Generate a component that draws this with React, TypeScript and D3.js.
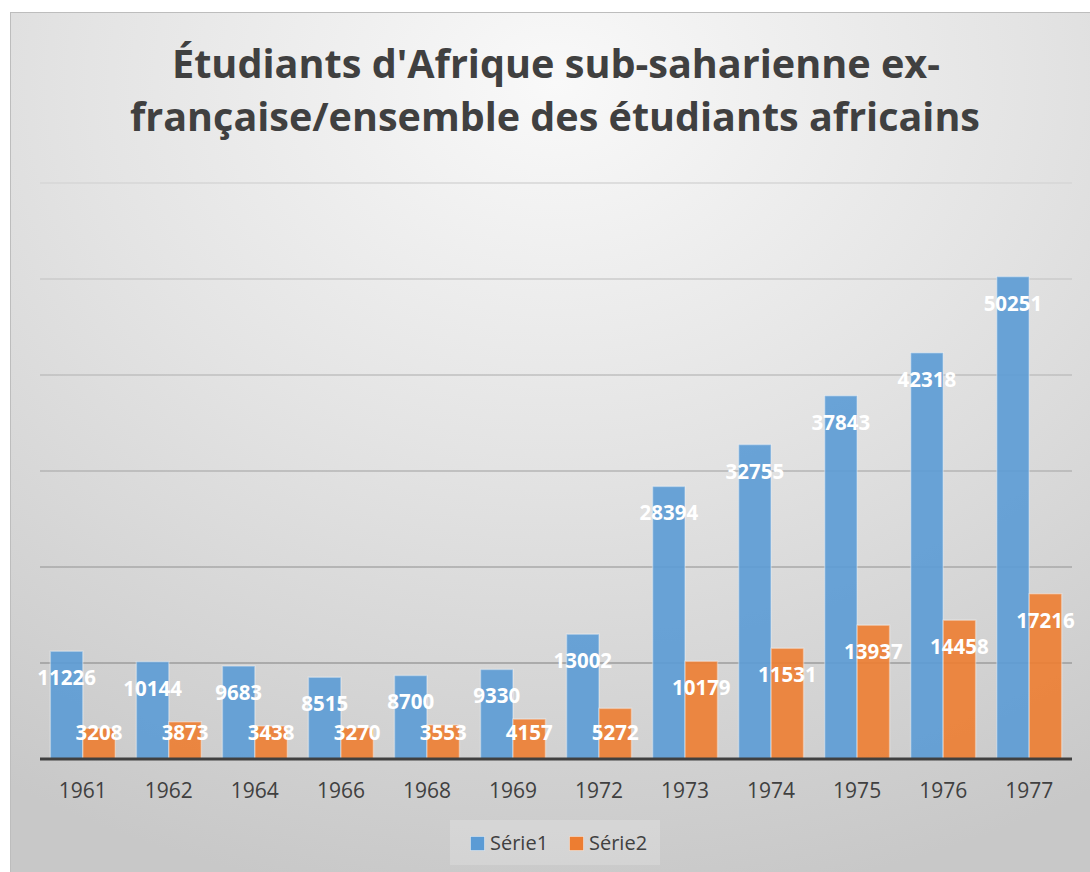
import React from 'react';
import * as d3 from 'd3';

const years = ['1961', '1962', '1964', '1966', '1968', '1969', '1972', '1973', '1974', '1975', '1976', '1977'];
const serie1 = [11226, 10144, 9683, 8515, 8700, 9330, 13002, 28394, 32755, 37843, 42318, 50251];
const serie2 = [3208, 3873, 3438, 3270, 3553, 4157, 5272, 10179, 11531, 13937, 14458, 17216];
const yTicks = [0, 10000, 20000, 30000, 40000, 50000, 60000];
const seriesNames = ['Série1', 'Série2'];
const colors = ['#5b9bd5', '#ed7d31'];

const W = 1090;
const H = 872;
const font = '"Open Sans", "Noto Sans", sans-serif';

export default function App() {
  const x = d3.scaleBand().domain(years).range([40, 1072]).paddingInner(0.245).paddingOuter(0.12);
  const y = d3.scaleLinear().domain([0, 60000]).range([759, 183]);
  const sub = d3.scaleBand().domain(seriesNames).range([0, x.bandwidth()]);
  // gridlines get darker towards the bottom
  const gridColor = d3.scaleLinear<string>().domain([60000, 0]).range(['#d6d6d6', '#929292']);
  const labelY = (v: number) => Math.min(y(v) + 27, 733) + 7;

  const series = [serie1, serie2];

  return (
    <svg width={W} height={H} style={{ position: 'absolute', left: 0, top: 0 }}>
      <defs>
        <radialGradient id="bg" cx="0.5" cy="0.08" r="0.95" gradientUnits="objectBoundingBox">
          <stop offset="0" stopColor="#f9f9f9" />
          <stop offset="0.45" stopColor="#e4e4e4" />
          <stop offset="1" stopColor="#c8c8c8" />
        </radialGradient>
      </defs>
      <rect x={10.5} y={12.5} width={W} height={H} fill="url(#bg)" stroke="#bdbdbd" />

      <text x={556} y={78} textAnchor="middle" fontFamily={font} fontWeight="bold" fontSize={40}
        fill="#404040" textLength={768} lengthAdjust="spacingAndGlyphs">
        Étudiants d'Afrique sub-saharienne ex-
      </text>
      <text x={555} y={131} textAnchor="middle" fontFamily={font} fontWeight="bold" fontSize={40}
        fill="#404040" textLength={850} lengthAdjust="spacingAndGlyphs">
        française/ensemble des étudiants africains
      </text>

      {yTicks.filter(t => t > 0).map(t => (
        <line key={t} x1={40} x2={1072} y1={y(t)} y2={y(t)} stroke={gridColor(t)} strokeWidth={1.5} />
      ))}

      {series.map((vals, si) => (
        <g key={si}>
          {vals.map((v, i) => (
            <rect key={i} x={(x(years[i]) ?? 0) + (sub(seriesNames[si]) ?? 0)} y={y(v)}
              width={sub.bandwidth()} height={y(0) - y(v)}
              fill={colors[si]} fillOpacity={0.9} stroke="#ffffff" strokeOpacity={0.35} strokeWidth={1.5} />
          ))}
        </g>
      ))}

      <line x1={40} x2={1072} y1={y(0)} y2={y(0)} stroke="#404040" strokeWidth={3} />

      {series.map((vals, si) => (
        <g key={'l' + si}>
          {vals.map((v, i) => (
            <text key={i} x={(x(years[i]) ?? 0) + (sub(seriesNames[si]) ?? 0) + sub.bandwidth() / 2}
              y={labelY(v)} textAnchor="middle" fontFamily={font} fontWeight="bold" fontSize={20.5} fill="#ffffff">
              {v}
            </text>
          ))}
        </g>
      ))}

      {years.map(yr => (
        <text key={yr} x={(x(yr) ?? 0) + x.bandwidth() / 2} y={798} textAnchor="middle"
          fontFamily={font} fontSize={21} fill="#404040">
          {yr}
        </text>
      ))}

      <rect x={450} y={820} width={210} height={45} fill="#ffffff" fillOpacity={0.18} />
      {seriesNames.map((s, i) => (
        <g key={s} transform={`translate(${470 + i * 99},0)`}>
          <rect x={0.5} y={836.5} width={14} height={14} fill={colors[i]} stroke="#ffffff" strokeOpacity={0.4} />
          <text x={20} y={850} fontFamily={font} fontSize={20} fill="#404040">{s}</text>
        </g>
      ))}
    </svg>
  );
}
